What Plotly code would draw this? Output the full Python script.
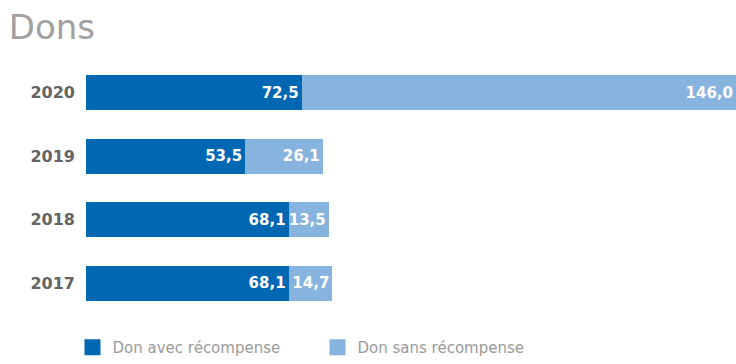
import plotly.graph_objects as go

years = ["2020", "2019", "2018", "2017"]
avec = [72.5, 53.5, 68.1, 68.1]
sans = [146.0, 26.1, 13.5, 14.7]
avec_labels = ["72,5", "53,5", "68,1", "68,1"]
sans_labels = ["146,0", "26,1", "13,5", "14,7"]
series_names = ["Don avec récompense", "Don sans récompense"]

dark = "#0068b3"
light = "#87b3df"
label_font = dict(family="DejaVu Sans", size=15, color="white", weight="bold")

fig = go.Figure()
fig.add_trace(go.Bar(
    y=years, x=avec, orientation="h", name=series_names[0], showlegend=False,
    marker=dict(color=dark, line=dict(width=0)),
    text=avec_labels, textposition="inside", insidetextanchor="end",
    textfont=label_font, cliponaxis=False,
))
fig.add_trace(go.Bar(
    y=years, x=sans, orientation="h", name=series_names[1], showlegend=False,
    marker=dict(color=light, line=dict(width=0)),
    text=sans_labels, textposition="inside", insidetextanchor="end",
    textfont=label_font, cliponaxis=False,
))
# legend keys (larger square swatches like the reference)
for nm, col in zip(series_names, [dark, light]):
    fig.add_trace(go.Scatter(
        x=[None], y=[None], mode="markers", name=nm,
        marker=dict(symbol="square", size=16, color=col), showlegend=True,
    ))

fig.update_layout(
    width=736, height=364,
    barmode="stack", bargap=0.45,
    plot_bgcolor="white", paper_bgcolor="white",
    margin=dict(l=0, r=0, t=61, b=0),
    uniformtext=dict(minsize=15, mode="show"),
    title=dict(text="Dons", x=0.012, xanchor="left", y=0.925, yanchor="middle",
               font=dict(family="DejaVu Sans", size=34, color="#a0a0a0")),
    xaxis=dict(range=[0, 218.5], visible=False, fixedrange=True,
               domain=[86 / 736, 1]),
    yaxis=dict(categoryorder="array", categoryarray=years[::-1],
               domain=[0.1617, 1], automargin=False,
               showgrid=False, showline=False, ticks="", ticklabelstandoff=10,
               tickfont=dict(family="DejaVu Sans", size=16, color="#646464", weight="bold")),
    legend=dict(orientation="h",
                x=0.0985, xanchor="left", y=0, yanchor="bottom",
                font=dict(family="DejaVu Sans", size=15, color="#9a9a9a"),
                entrywidth=200, entrywidthmode="pixels", traceorder="normal",
                itemsizing="trace", bgcolor="rgba(0,0,0,0)"),
    showlegend=True,
)

fig.write_html("out.html")
